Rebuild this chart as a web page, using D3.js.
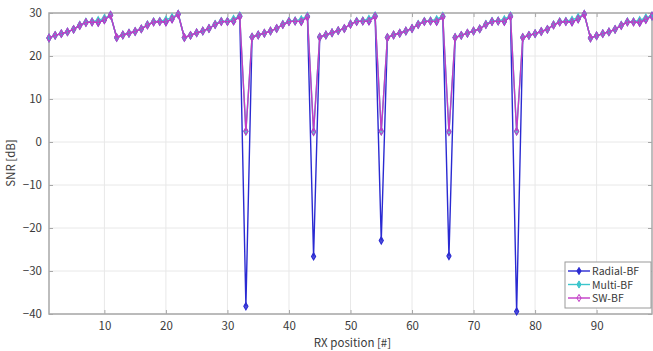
<!DOCTYPE html>
<html>
<head>
<meta charset="utf-8">
<script src="https://cdn.jsdelivr.net/npm/d3@7"></script>
<style>
body { margin: 0; background: #fff; }
text { font-family: "Noto Sans CJK JP", "Noto Sans", sans-serif; fill: #3a3a3a; }
</style>
</head>
<body>
<script>
var width = 653;
var height = 351;

// RX positions 1..99
var rxPos = d3.range(1, 100);

var radialBF = [
  24.2, 24.8, 25.2, 25.6, 26.2, 27.1, 27.8, 27.9, 27.8, 28.4, 29.5,
  24.3, 24.9, 25.3, 25.7, 26.3, 27.2, 27.9, 28.0, 27.9, 28.6, 29.7,
  24.3, 24.8, 25.4, 25.8, 26.4, 27.3, 28.0, 28.0, 28.1, 29.2, -38.2,
  24.4, 24.9, 25.3, 25.8, 26.4, 27.3, 28.0, 28.1, 28.0, 29.1, -26.6,
  24.4, 24.9, 25.4, 25.9, 26.4, 27.4, 28.0, 28.1, 28.1, 29.2, -22.9,
  24.3, 24.9, 25.3, 25.8, 26.4, 27.3, 28.0, 28.1, 28.0, 29.1, -26.5,
  24.3, 24.8, 25.3, 25.8, 26.3, 27.3, 28.0, 28.1, 28.0, 29.2, -39.4,
  24.3, 24.8, 25.2, 25.7, 26.2, 27.2, 27.9, 28.0, 27.9, 28.6, 29.7,
  24.2, 24.7, 25.2, 25.6, 26.2, 27.1, 27.9, 27.9, 27.8, 28.5, 29.3
];

var multiBF = [
  24.2, 24.8, 25.2, 25.6, 26.2, 27.2, 27.9, 28.0, 28.3, 28.8, 29.5,
  24.3, 24.9, 25.3, 25.7, 26.3, 27.3, 28.0, 28.1, 28.4, 29.0, 29.7,
  24.3, 24.8, 25.4, 25.8, 26.4, 27.4, 28.1, 28.1, 28.6, 29.4, 2.5,
  24.4, 24.9, 25.3, 25.8, 26.4, 27.4, 28.1, 28.2, 28.5, 29.3, 2.4,
  24.4, 24.9, 25.4, 25.9, 26.4, 27.5, 28.1, 28.2, 28.6, 29.4, 2.5,
  24.3, 24.9, 25.3, 25.8, 26.4, 27.4, 28.1, 28.2, 28.5, 29.3, 2.4,
  24.3, 24.8, 25.3, 25.8, 26.3, 27.4, 28.1, 28.2, 28.5, 29.4, 2.5,
  24.3, 24.8, 25.2, 25.7, 26.2, 27.3, 28.0, 28.1, 28.4, 29.0, 29.7,
  24.2, 24.7, 25.2, 25.6, 26.2, 27.2, 28.0, 28.0, 28.3, 28.9, 29.3
];

var swBF = [
  24.2, 24.8, 25.2, 25.6, 26.2, 27.1, 27.8, 27.9, 27.8, 28.4, 29.5,
  24.3, 24.9, 25.3, 25.7, 26.3, 27.2, 27.9, 28.0, 27.9, 28.6, 29.7,
  24.3, 24.8, 25.4, 25.8, 26.4, 27.3, 28.0, 28.0, 28.1, 29.2, 2.5,
  24.4, 24.9, 25.3, 25.8, 26.4, 27.3, 28.0, 28.1, 28.0, 29.1, 2.4,
  24.4, 24.9, 25.4, 25.9, 26.4, 27.4, 28.0, 28.1, 28.1, 29.2, 2.5,
  24.3, 24.9, 25.3, 25.8, 26.4, 27.3, 28.0, 28.1, 28.0, 29.1, 2.4,
  24.3, 24.8, 25.3, 25.8, 26.3, 27.3, 28.0, 28.1, 28.0, 29.2, 2.5,
  24.3, 24.8, 25.2, 25.7, 26.2, 27.2, 27.9, 28.0, 27.9, 28.6, 29.7,
  24.2, 24.7, 25.2, 25.6, 26.2, 27.1, 27.9, 27.9, 27.8, 28.5, 29.3
];

var seriesNames = ["Radial-BF", "Multi-BF", "SW-BF"];
var seriesColors = ["#2a2ad2", "#3cc6cc", "#c23cc6"];
var xTicks = [10, 20, 30, 40, 50, 60, 70, 80, 90];
var yTicks = [-40, -30, -20, -10, 0, 10, 20, 30];

var margin = { top: 13, right: 1, bottom: 37, left: 49 };
var pw = width - margin.left - margin.right;
var ph = height - margin.top - margin.bottom;

var svg = d3.select("body").append("svg")
  .attr("width", width)
  .attr("height", height);

var x = d3.scaleLinear().domain([1, 99]).range([0, pw]);
var y = d3.scaleLinear().domain([-40, 30]).range([ph, 0]);

var g = svg.append("g").attr("transform", "translate(" + margin.left + "," + margin.top + ")");

// grid
g.append("g").selectAll("line").data(xTicks).enter().append("line")
  .attr("x1", d => x(d)).attr("x2", d => x(d))
  .attr("y1", 0).attr("y2", ph)
  .attr("stroke", "#e8e8e8");
g.append("g").selectAll("line").data(yTicks).enter().append("line")
  .attr("x1", 0).attr("x2", pw)
  .attr("y1", d => y(d)).attr("y2", d => y(d))
  .attr("stroke", "#e8e8e8");

// axes
var axisColor = "#a8a8a8";
function styleAxis(sel) {
  sel.select(".domain").remove();
  sel.selectAll(".tick line").attr("stroke", axisColor);
  sel.selectAll(".tick text").style("font-size", "11.5px").attr("fill", "#3a3a3a");
}
g.append("g").attr("transform", "translate(0," + ph + ")")
  .call(d3.axisBottom(x).tickValues(xTicks).tickSize(-4).tickPadding(8))
  .call(styleAxis);
g.append("g")
  .call(d3.axisTop(x).tickValues(xTicks).tickSize(-4).tickFormat(""))
  .call(styleAxis);
g.append("g")
  .call(d3.axisLeft(y).tickValues(yTicks).tickSize(-4).tickPadding(7))
  .call(styleAxis);
g.append("g").attr("transform", "translate(" + pw + ",0)")
  .call(d3.axisRight(y).tickValues(yTicks).tickSize(-4).tickFormat(""))
  .call(styleAxis);

g.append("rect")
  .attr("x", 0).attr("y", 0).attr("width", pw).attr("height", ph)
  .attr("fill", "none").attr("stroke", axisColor).attr("stroke-width", 1.5);

// series
var allSeries = [radialBF, multiBF, swBF];
var line = d3.line().x((d, i) => x(rxPos[i])).y(d => y(d));
var diamond = d3.symbol().type(d3.symbolDiamond).size(15);

allSeries.forEach(function (vals, k) {
  var sg = g.append("g");
  sg.append("path").datum(vals)
    .attr("d", line)
    .attr("fill", "none")
    .attr("stroke", seriesColors[k])
    .attr("stroke-width", 1.4);
  sg.selectAll("path.m").data(vals).enter().append("path")
    .attr("class", "m")
    .attr("d", diamond)
    .attr("transform", (d, i) => "translate(" + x(rxPos[i]) + "," + y(d) + ")")
    .attr("fill", k == 2 ? "none" : seriesColors[k])
    .attr("fill-opacity", 0.8)
    .attr("stroke", seriesColors[k])
    .attr("stroke-width", 1.1);
});

// legend
var lg = svg.append("g").attr("transform", "translate(565,262)");
lg.append("rect").attr("width", 86).attr("height", 46)
  .attr("fill", "#fff").attr("stroke", "#9a9a9a");
seriesNames.forEach(function (name, k) {
  var ly = 9 + k * 13.5;
  lg.append("line").attr("x1", 3).attr("x2", 25).attr("y1", ly).attr("y2", ly)
    .attr("stroke", seriesColors[k]).attr("stroke-width", 1.4);
  lg.append("path").attr("d", diamond)
    .attr("transform", "translate(14," + ly + ")")
    .attr("fill", k == 2 ? "none" : seriesColors[k])
    .attr("stroke", seriesColors[k]);
  lg.append("text").attr("x", 27).attr("y", ly + 4)
    .style("font-size", "10.5px").text(name);
});

// axis labels
svg.append("text")
  .attr("x", margin.left + pw / 2 + 2).attr("y", 347)
  .attr("text-anchor", "middle").style("font-size", "11.5px")
  .text("RX position [#]");
svg.append("text")
  .attr("transform", "translate(15,163) rotate(-90)")
  .attr("text-anchor", "middle").style("font-size", "11.5px")
  .text("SNR [dB]");
</script>
</body>
</html>
